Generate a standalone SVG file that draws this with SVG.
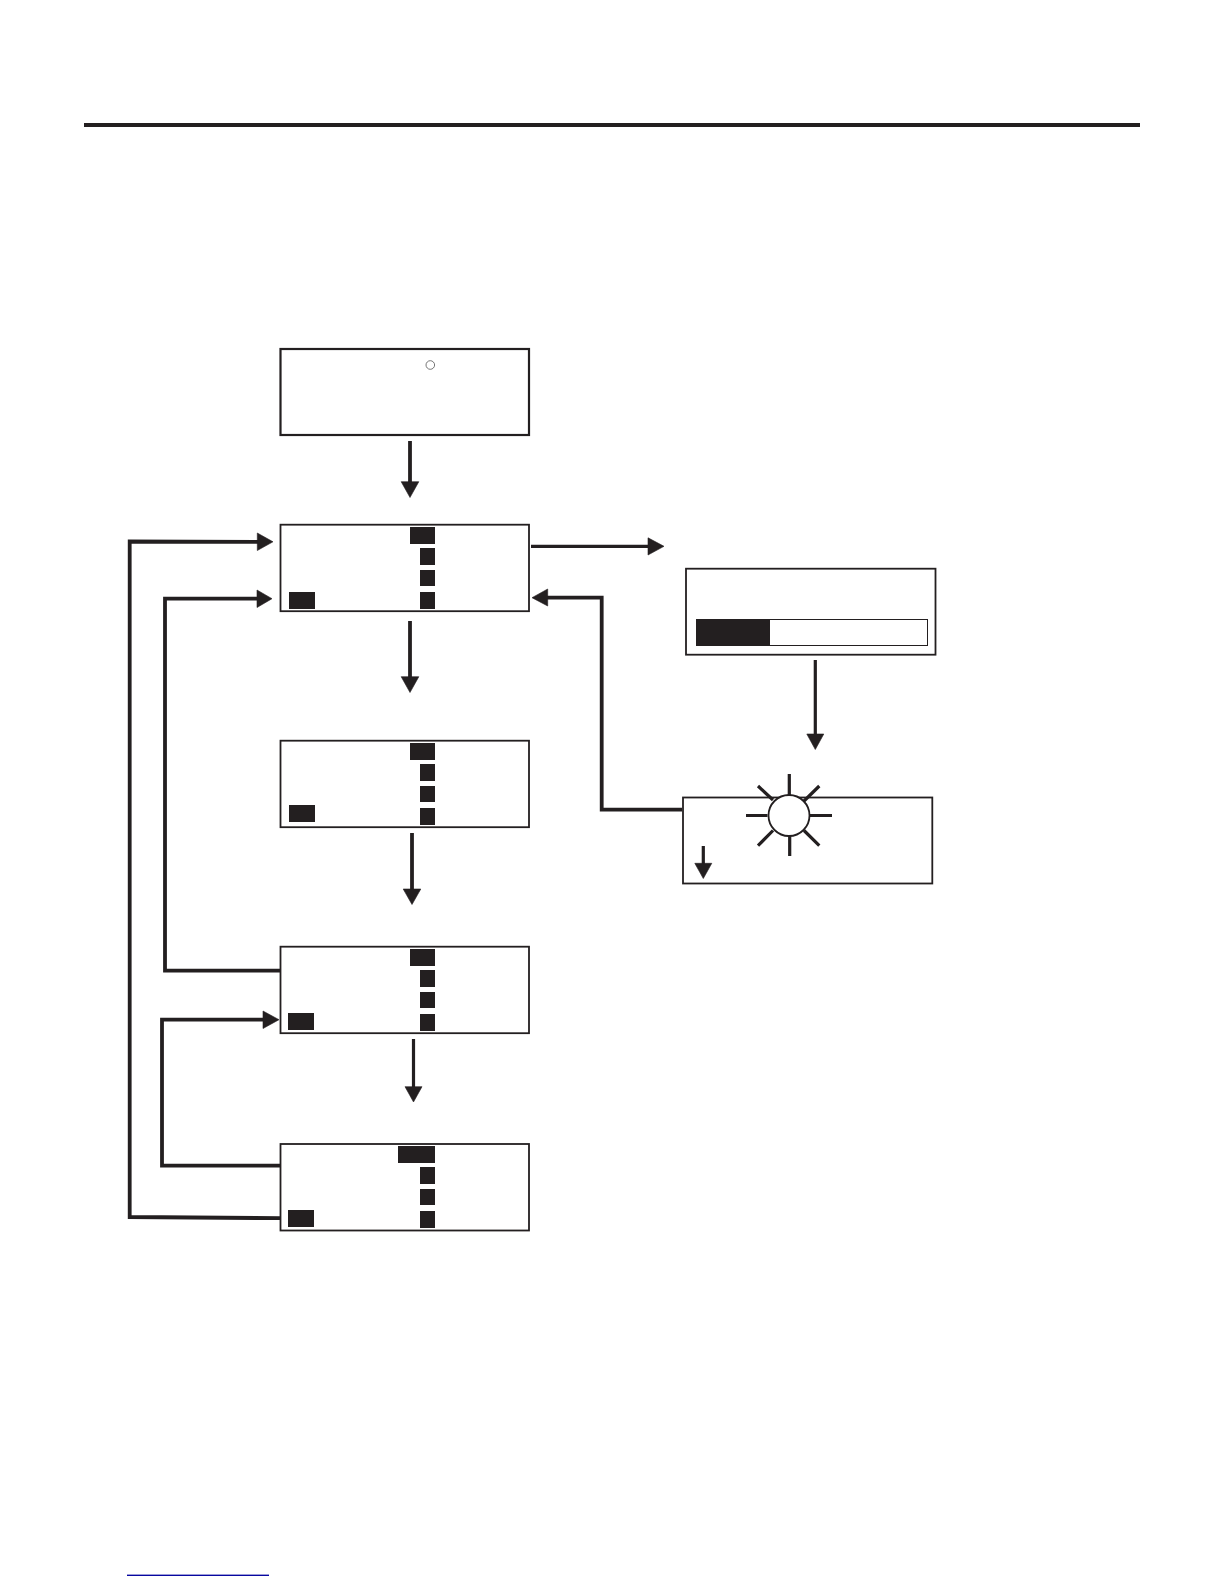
<svg xmlns="http://www.w3.org/2000/svg" width="1224" height="1584" viewBox="0 0 1224 1584">
<style>
.box{fill:#fff;stroke:#231f20;stroke-width:1.8}
.k{fill:#231f20}
.c{fill:none;stroke:#231f20;stroke-width:3.2;stroke-linejoin:miter}
.w{stroke-width:3.8}
.h{fill:#231f20;stroke:#231f20;stroke-width:0.6}
.r{stroke:#231f20;stroke-width:3.2;fill:none}
</style>
<rect width="1224" height="1584" fill="#fff"/>
<rect id="top-rule" x="84" y="123" width="1056" height="4" class="k"/>
<rect id="bottom-link" x="127" y="1574.6" width="142" height="1.4" fill="#0808a0"/>
<g id="box-start">
<rect class="box" style="stroke-width:2.2" x="280.5" y="349" width="248.5" height="86"/>
<circle cx="430.3" cy="365" r="4.3" fill="#fff" stroke="#555" stroke-width="0.8"/>
</g>
<g id="box-menu-1">
<rect class="box" x="280.5" y="524.7" width="248.5" height="86.5"/>
<rect class="k" x="410" y="527" width="25" height="17"/>
<rect class="k" x="420" y="548" width="15" height="17"/>
<rect class="k" x="420" y="570" width="15" height="16"/>
<rect class="k" x="420" y="592" width="15" height="17"/>
<rect class="k" x="289" y="592" width="26" height="17"/>
</g>
<g id="box-menu-2">
<rect class="box" x="280.5" y="740.7" width="248.5" height="86.5"/>
<rect class="k" x="410" y="743" width="25" height="17"/>
<rect class="k" x="420" y="764" width="15" height="17"/>
<rect class="k" x="420" y="786" width="15" height="16"/>
<rect class="k" x="420" y="808" width="15" height="17"/>
<rect class="k" x="289" y="805" width="26" height="17"/>
</g>
<g id="box-menu-3">
<rect class="box" x="280.5" y="946.7" width="248.5" height="86.5"/>
<rect class="k" x="410" y="949" width="25" height="17"/>
<rect class="k" x="420" y="970" width="15" height="17"/>
<rect class="k" x="420" y="992" width="15" height="16"/>
<rect class="k" x="420" y="1014" width="15" height="17"/>
<rect class="k" x="288" y="1013" width="26" height="17"/>
</g>
<g id="box-menu-4">
<rect class="box" x="280.5" y="1144" width="248.5" height="86.5"/>
<rect class="k" x="398" y="1146" width="37" height="17"/>
<rect class="k" x="420" y="1167" width="15" height="17"/>
<rect class="k" x="420" y="1189" width="15" height="16"/>
<rect class="k" x="420" y="1211" width="15" height="17"/>
<rect class="k" x="288" y="1210" width="26" height="17"/>
</g>
<g id="box-progress">
<rect class="box" x="686" y="568.7" width="249.5" height="86"/>
<rect x="696.5" y="619.5" width="231" height="26" fill="#fff" stroke="#231f20" stroke-width="1"/>
<rect class="k" x="696" y="619" width="74" height="27"/>
</g>
<g id="box-sun">
<rect class="box" x="683" y="797.5" width="249.3" height="86"/>
<g class="r">
<path d="M789.3 774V795M789.7 836V856M746 815.5H767.5M810 815.5H832"/>
<path d="M758 786L773 800M819.3 786L803.5 801.5M758 845.7L773 830.5M819.3 845.7L804 830.5"/>
</g>
<circle cx="789" cy="815.5" r="20.5" fill="#fff" stroke="#231f20" stroke-width="1.8"/>
<path class="c" d="M703.3 846V865"/>
<path class="h" d="M694.8 863.3H711.8L703.3 878.5Z"/>
</g>
<g id="connectors">
<path class="c w" d="M410 441V483"/>
<path class="h" d="M401.2 481.7H418.8L410 497.5Z"/>
<path class="c w" d="M410 621V678"/>
<path class="h" d="M401.2 676.7H418.8L410 692.5Z"/>
<path class="c w" d="M412 833V890"/>
<path class="h" d="M403.2 889H420.8L412 904.5Z"/>
<path class="c" d="M413.5 1039V1088"/>
<path class="h" d="M405 1086.7H422L413.5 1102Z"/>
<path class="c" d="M531 546.3H650"/>
<path class="h" d="M648 537.8V555L664 546.3Z"/>
<path class="c w" d="M682 809.7H601.7V597.7H546"/>
<path class="h" d="M547.7 589V606L532 597.7Z"/>
<path class="c" d="M815.3 660V735"/>
<path class="h" d="M806.8 734H823.8L815.3 749.5Z"/>
<path class="c w" d="M280 1218.2L129.7 1217V541.5L259 541.8"/>
<path class="h" d="M257.3 533V550.5L273 541.8Z"/>
<path class="c w" d="M280 970.7H165V598.7H259"/>
<path class="h" d="M257 590V607.5L272 598.7Z"/>
<path class="c w" d="M280 1165.7H162V1019.7H265"/>
<path class="h" d="M263 1011V1028.5L279 1019.7Z"/>
</g>
</svg>
